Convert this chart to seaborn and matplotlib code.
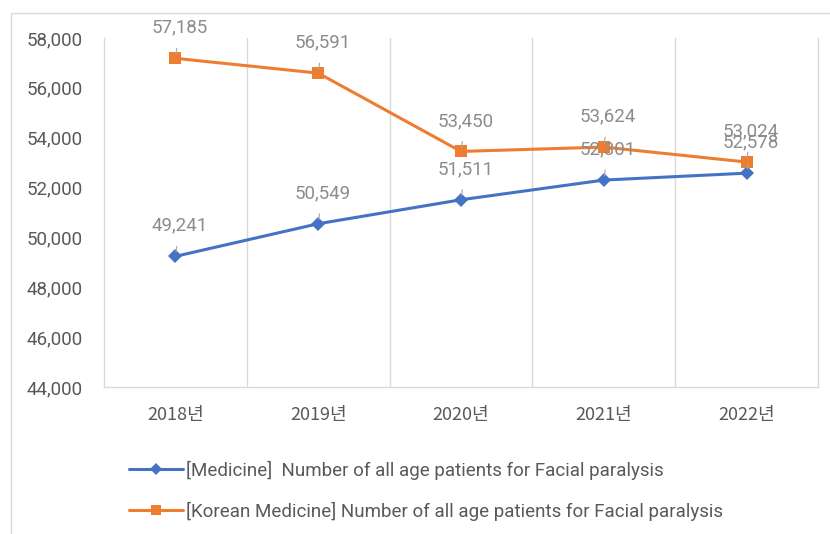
import matplotlib
matplotlib.use("Agg")
import matplotlib.pyplot as plt
import matplotlib.patches as mpatches
import seaborn as sns
import pandas as pd
from matplotlib.ticker import FuncFormatter, FixedLocator
from matplotlib.lines import Line2D

years = ["2018년", "2019년", "2020년", "2021년", "2022년"]
medicine = [49241, 50549, 51511, 52301, 52578]
korean_medicine = [57185, 56591, 53450, 53624, 53024]
series_names = [
    "[Medicine]  Number of all age patients for Facial paralysis",
    "[Korean Medicine] Number of all age patients for Facial paralysis",
]
yticks = [44000, 46000, 48000, 50000, 52000, 54000, 56000, 58000]

df = pd.DataFrame({
    "year": years * 2,
    "value": medicine + korean_medicine,
    "series": [series_names[0]] * len(years) + [series_names[1]] * len(years),
})

sns.set_theme(style="white")
plt.rcParams["font.family"] = ["Roboto", "Noto Sans CJK KR", "DejaVu Sans"]

BLUE = "#4472C4"
ORANGE = "#ED7D31"
GRID = "#D9D9D9"
TXT = "#595959"
LBL = "#8C8C8C"

fig = plt.figure(figsize=(8.3, 5.34), dpi=100)
ax = fig.add_axes([104 / 830, 1 - 387 / 534, (818 - 104) / 830, (387 - 38) / 534])

# outer frame
fig.patches.append(mpatches.Rectangle((11 / 830, -0.05), 1.2, 1 - 13 / 534 + 0.05,
                                      transform=fig.transFigure, fill=False,
                                      edgecolor=GRID, linewidth=1.0))

sns.lineplot(data=df, x="year", y="value", hue="series", style="series",
             palette=[BLUE, ORANGE], markers=["D", "s"], dashes=False,
             linewidth=2.2, markersize=8, markeredgewidth=0, sort=False,
             legend=False, ax=ax)
lines = ax.get_lines()
if len(lines) >= 2:
    lines[0].set_markersize(7.5)
    lines[1].set_markersize(9)

ax.set_xlim(-0.5, 4.5)
ax.set_ylim(44000, 58000)
ax.yaxis.set_major_locator(FixedLocator(yticks))
ax.yaxis.set_major_formatter(FuncFormatter(lambda v, p: f"{int(v):,}"))
ax.set_xticks(range(len(years)))
ax.set_xticklabels(years, family=["Noto Sans CJK KR", "DejaVu Sans"])
ax.set_xlabel("")
ax.set_ylabel("")
ax.tick_params(axis="y", length=0, labelsize=13.5, labelcolor=TXT, pad=15)
ax.tick_params(axis="x", length=0, labelsize=13, labelcolor=TXT, pad=14)

for xb in [0.5, 1.5, 2.5, 3.5]:
    ax.axvline(xb, color=GRID, lw=1.0, zorder=0)
ax.spines["top"].set_visible(False)
for side in ["left", "right", "bottom"]:
    ax.spines[side].set_color(GRID)
    ax.spines[side].set_linewidth(1.0)

# data labels
for vals in (medicine, korean_medicine):
    for i, v in enumerate(vals):
        ax.annotate(f"{v:,}", xy=(i, v), xytext=(3, 22), textcoords="offset points",
                    ha="center", va="center", fontsize=13.5, color=LBL,
                    arrowprops=dict(arrowstyle="-", color="#A6A6A6", lw=0.8,
                                    shrinkA=6, shrinkB=3))

handles = [
    Line2D([0], [0], color=BLUE, lw=2.2, marker="D", markersize=6, markeredgewidth=0),
    Line2D([0], [0], color=ORANGE, lw=2.2, marker="s", markersize=7, markeredgewidth=0),
]
fig.legend(handles, series_names, loc="upper left",
           bbox_to_anchor=(112 / 830, 1 - 444 / 534), frameon=False,
           fontsize=13.5, labelcolor=TXT, handlelength=2.9, handletextpad=0.15,
           labelspacing=1.15)

fig.savefig("out.png", dpi=100)
